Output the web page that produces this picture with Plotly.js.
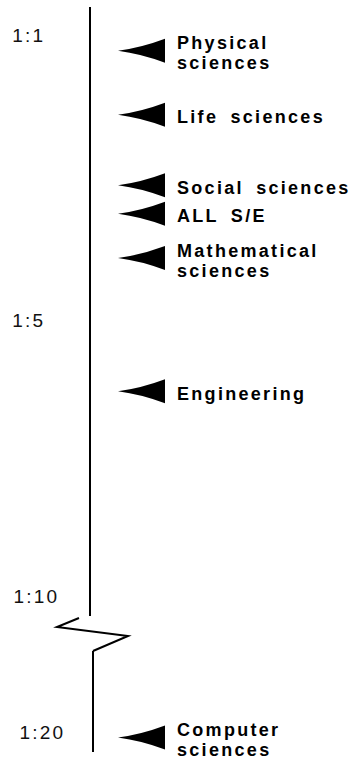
<!DOCTYPE html>
<html>
<head>
<meta charset="utf-8">
<script src="https://cdn.plot.ly/plotly-3.0.1.min.js"></script>
<style>
  html, body { margin: 0; padding: 0; background: #fff; }
  #chart { width: 363px; height: 765px; }
  .annotation-text { letter-spacing: 2.3px; word-spacing: 5px; }
  .yaxislayer-above text { letter-spacing: 2.2px; }
</style>
</head>
<body>
<div id="chart"></div>
<script>
// ---- data (ratio 1:N, N) ----
const categories = ["Physical sciences", "Life sciences", "Social sciences", "ALL S/E",
                    "Mathematical sciences", "Engineering", "Computer sciences"];
const labelLines = [["Physical", "sciences"], ["Life sciences"], ["Social sciences"], ["ALL S/E"],
                    ["Mathematical", "sciences"], ["Engineering"], ["Computer", "sciences"]];
const ratioValues = [1.22, 2.12, 3.11, 3.51, 4.13, 6.29, 20.1];
const tickValues = [1, 5, 10, 20];
const tickLabels = ["1:1", "1:5", "1:10", "1:20"];

// ---- layout helpers ----
const W = 363, H = 765;
const px = x => x / W;
const py = y => 1 - y / H;

// broken axis: three stacked segments
const segments = [
  { name: "y",  domain: [py(320), py(7)],   range: [5, 0.607],       pos: px(90), standoff: 40 },
  { name: "y2", domain: [py(616), py(320)], range: [10.362, 5],      pos: px(90), standoff: 26 },
  { name: "y3", domain: [py(752), py(651)], range: [20.362, 18.533], pos: px(93), standoff: 23 }
];
const segFor = v => segments.find(s => v >= Math.min(...s.range) && v <= Math.max(...s.range));

const traces = segments.map(s => ({
  type: "scatter", mode: "markers", x: [null], y: [null],
  xaxis: "x", yaxis: s.name, hoverinfo: "skip", showlegend: false
}));

const layout = {
  width: W, height: H, autosize: false,
  margin: { l: 0, r: 0, t: 0, b: 0, pad: 0 },
  paper_bgcolor: "#fff", plot_bgcolor: "rgba(0,0,0,0)",
  showlegend: false,
  xaxis: { domain: [0, 1], range: [0, W], visible: false, fixedrange: true },
  shapes: [],
  annotations: []
};

segments.forEach((s, i) => {
  const key = i === 0 ? "yaxis" : "yaxis" + (i + 1);
  const tv = [], tt = [];
  tickValues.forEach((v, k) => { if (segFor(v) === s) { tv.push(v); tt.push(tickLabels[k]); } });
  layout[key] = {
    domain: s.domain, range: s.range, anchor: "free", position: s.pos,
    showline: true, linecolor: "#000", linewidth: 2,
    showgrid: false, zeroline: false, ticks: "",
    tickmode: "array", tickvals: tv, ticktext: tt,
    ticklabelstandoff: s.standoff,
    tickfont: { family: "Liberation Sans, Arial, sans-serif", size: 19, color: "#111" },
    fixedrange: true
  };
});

// axis break zigzag
layout.shapes.push({
  type: "path", xref: "paper", yref: "paper", layer: "above",
  path: `M${px(79)},${py(618)} L${px(57)},${py(627)} L${px(128)},${py(636)} L${px(93)},${py(651)}`,
  line: { color: "#000", width: 2 }
});

// arrows + labels
ratioValues.forEach((v, i) => {
  const s = segFor(v);
  layout.shapes.push({
    type: "path", xref: "x", yref: s.name, layer: "above",
    ysizemode: "pixel", yanchor: v,
    path: "M118,0 Q141,3 165,12 L165,-12 Q141,-3 118,0 Z",
    fillcolor: "#000", line: { width: 0 }
  });
  const lines = labelLines[i];
  const n = lines.length;
  lines.forEach((t, j) => {
    const off = (j - (n - 1) / 2) * 20 + 2.5;
    layout.annotations.push({
      text: t, xref: "x", yref: s.name, x: 177, y: v,
      xanchor: "left", yanchor: "middle", yshift: -off,
      showarrow: false, borderpad: 0, borderwidth: 0,
      font: { family: "Liberation Sans, Arial, sans-serif", size: 18, weight: 700, color: "#000" }
    });
  });
});

Plotly.newPlot("chart", traces, layout, { displayModeBar: false, staticPlot: true });
</script>
</body>
</html>
